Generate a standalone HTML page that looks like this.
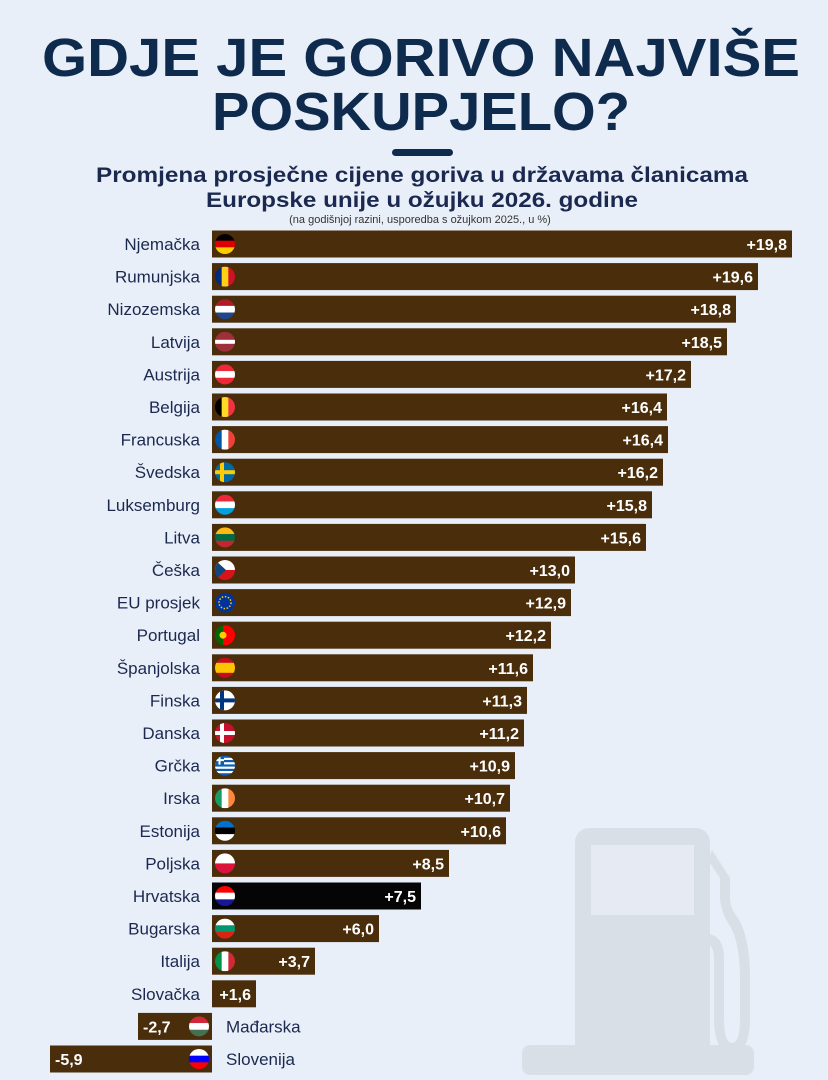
<!DOCTYPE html>
<html><head><meta charset="utf-8"><style>
html,body{margin:0;padding:0;background:#e9eff8;}
svg{display:block;font-family:"Liberation Sans",sans-serif;}
.l{font-size:17px;fill:#1b2950;text-anchor:end;}
.v{font-size:16px;fill:#fff;font-weight:bold;text-anchor:end;}
</style></head><body>
<svg width="828" height="1080" viewBox="0 0 828 1080" xmlns="http://www.w3.org/2000/svg">
<rect width="828" height="1080" fill="#e9eff8"/>
<g fill="#d9dfe7">
<rect x="575" y="828" width="135" height="230" rx="14"/>
<rect x="522" y="1045" width="232" height="30" rx="8"/>
<path d="M712 850 l18 28 v20 q0 10 8 20 q12 20 12 60 v40 q0 35 -18 35 q-18 0 -18 -35 v-60 q0 -15 -12 -15 h-5 v-10 h5 q22 0 22 25 v60 q0 25 8 25 q8 0 8 -25 v-40 q0 -35 -10 -52 q-10 -15 -10 -30 v-18 l-12 -18z"/>
</g>
<rect x="591" y="845" width="103" height="70" fill="#e6ebf3"/>
<text x="421" y="76" text-anchor="middle" font-size="54" font-weight="bold" fill="#0e2a4d" textLength="758" lengthAdjust="spacingAndGlyphs">GDJE JE GORIVO NAJVIŠE</text>
<text x="421" y="130" text-anchor="middle" font-size="54" font-weight="bold" fill="#0e2a4d" textLength="418" lengthAdjust="spacingAndGlyphs">POSKUPJELO?</text>
<rect x="392" y="149" width="61" height="7" rx="3.5" fill="#0e2a4d"/>
<text x="422" y="182" text-anchor="middle" font-size="21" font-weight="bold" fill="#1b2950" textLength="652" lengthAdjust="spacingAndGlyphs">Promjena prosječne cijene goriva u državama članicama</text>
<text x="422" y="207" text-anchor="middle" font-size="21" font-weight="bold" fill="#1b2950" textLength="432" lengthAdjust="spacingAndGlyphs">Europske unije u ožujku 2026. godine</text>
<text x="420" y="223" text-anchor="middle" font-size="11" fill="#333">(na godišnjoj razini, usporedba s ožujkom 2025., u %)</text>
<defs><clipPath id="c"><circle r="10"/></clipPath></defs>
<g id="rows"></g>
</svg>
<script>
var d=[["Njemačka",792,"+19,8","hz:#000,#d00,#fc0"],["Rumunjska",758,"+19,6","vt:#002b7f,#fcd116,#ce1126"],["Nizozemska",736,"+18,8","hz:#ae1c28,#fff,#21468b"],["Latvija",727,"+18,5","lv"],["Austrija",691,"+17,2","hz:#ed2939,#fff,#ed2939"],["Belgija",667,"+16,4","vt:#000,#fdda24,#ef3340"],["Francuska",668,"+16,4","vt:#0055a4,#fff,#ef4135"],["Švedska",663,"+16,2","cr:#006aa7,#fecc00"],["Luksemburg",652,"+15,8","hz:#ed2939,#fff,#00a1de"],["Litva",646,"+15,6","hz:#fdb913,#006a44,#c1272d"],["Češka",575,"+13,0","cz"],["EU prosjek",571,"+12,9","eu"],["Portugal",551,"+12,2","pt"],["Španjolska",533,"+11,6","hz:#c60b1e,#ffc400,#ffc400,#c60b1e"],["Finska",527,"+11,3","cr:#fff,#003580"],["Danska",524,"+11,2","cr:#c8102e,#fff"],["Grčka",515,"+10,9","gr"],["Irska",510,"+10,7","vt:#169b62,#fff,#ff883e"],["Estonija",506,"+10,6","hz:#0072ce,#000,#fff"],["Poljska",449,"+8,5","hz:#fff,#dc143c"],["Hrvatska",421,"+7,5","hz:#ff0000,#fff,#171796"],["Bugarska",379,"+6,0","hz:#fff,#00966e,#d62612"],["Italija",315,"+3,7","vt:#009246,#fff,#ce2b37"],["Slovačka",256,"+1,6","none"],["Mađarska",138,"-2,7","hz:#ce2939,#fff,#477050"],["Slovenija",50,"-5,9","hz:#fff,#0000ff,#ff0000"]];
function flag(f,cx,cy){if(f=="none")return '';var s='<g transform="translate('+cx+','+cy+')" clip-path="url(#c)">';
var t=f.split(":"),k=t[0],c=t[1]?t[1].split(","):[];
if(k=="hz"){var h=20/c.length;c.forEach(function(col,i){s+='<rect x="-10" y="'+(-10+i*h)+'" width="20" height="'+(h+0.3)+'" fill="'+col+'"/>'});}
else if(k=="vt"){var w=20/c.length;c.forEach(function(col,i){s+='<rect y="-10" x="'+(-10+i*w)+'" height="20" width="'+(w+0.3)+'" fill="'+col+'"/>'});}
else if(k=="cr"){s+='<rect x="-10" y="-10" width="20" height="20" fill="'+c[0]+'"/><rect x="-10" y="-2" width="20" height="4" fill="'+c[1]+'"/><rect x="-5" y="-10" width="4" height="20" fill="'+c[1]+'"/>';}
else if(k=="lv"){s+='<rect x="-10" y="-10" width="20" height="20" fill="#9e3039"/><rect x="-10" y="-2" width="20" height="4" fill="#fff"/>';}
else if(k=="cz"){s+='<rect x="-10" y="-10" width="20" height="10" fill="#fff"/><rect x="-10" y="0" width="20" height="10" fill="#d7141a"/><path d="M-10 -10 L1 0 L-10 10z" fill="#11457e"/>';}
else if(k=="eu"){s+='<rect x="-10" y="-10" width="20" height="20" fill="#003399"/><circle r="6" fill="none" stroke="#fc0" stroke-width="1.5" stroke-dasharray="1.5 1.6"/>';}
else if(k=="pt"){s+='<rect x="-10" y="-10" width="8" height="20" fill="#006600"/><rect x="-2" y="-10" width="12" height="20" fill="#f00"/><circle cx="-2" r="3.5" fill="#fc0"/>';}
else if(k=="gr"){s+='<rect x="-10" y="-10" width="20" height="20" fill="#0d5eaf"/>';for(var i=0;i<4;i++)s+='<rect x="-10" y="'+(-7.8+i*4.4)+'" width="20" height="2.2" fill="#fff"/>';s+='<rect x="-10" y="-10" width="9" height="9" fill="#0d5eaf"/><rect x="-6.5" y="-10" width="2" height="9" fill="#fff"/><rect x="-10" y="-6.5" width="9" height="2" fill="#fff"/>';}
return s+'</g>';}
var out='';d.forEach(function(r,i){var cy=244+i*32.6,y=cy-13.5;
if(r[2][0]=="+"){var hr=r[0]=="Hrvatska";out+='<rect x="212" y="'+y+'" width="'+(r[1]-212)+'" height="27" fill="'+(hr?'#050505':'#4a2d0b')+'"/>';
out+='<text class="l" x="200" y="'+(cy+6)+'">'+r[0]+'</text>';out+=flag(r[3],225,cy);out+='<text class="v" x="'+(r[1]-5)+'" y="'+(cy+6)+'">'+r[2]+'</text>';}
else{out+='<rect x="'+r[1]+'" y="'+y+'" width="'+(212-r[1])+'" height="27" fill="#4a2d0b"/>';out+='<text class="l" style="text-anchor:start" x="226" y="'+(cy+6)+'">'+r[0]+'</text>';out+=flag(r[3],199,cy);out+='<text class="v" style="text-anchor:start" x="'+(r[1]+5)+'" y="'+(cy+6)+'">'+r[2]+'</text>';}
});
document.getElementById("rows").innerHTML=out;
</script>
</body></html>
